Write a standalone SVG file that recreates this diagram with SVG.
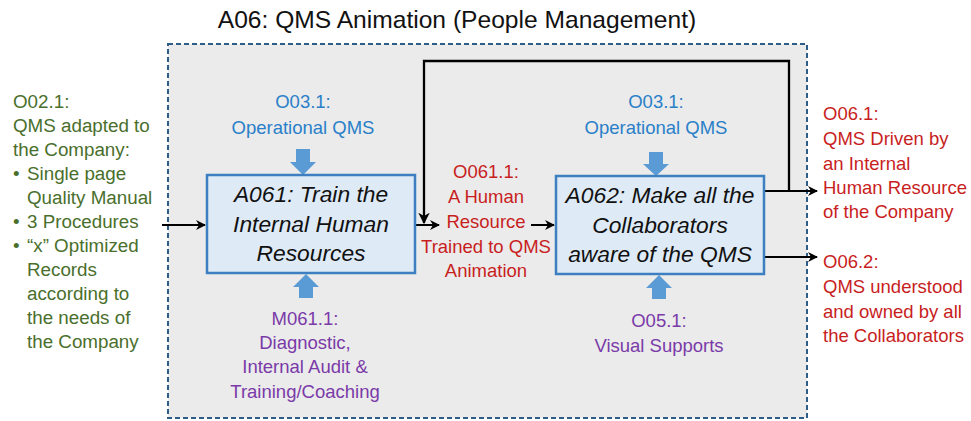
<svg xmlns="http://www.w3.org/2000/svg" width="971" height="421" viewBox="0 0 971 421">
<style>
.t{font-family:"Liberation Sans",Arial,sans-serif;font-size:18.5px}
.c{text-anchor:middle}
.blue{fill:#2a7fc9}
.red{fill:#c81e1e}
.purple{fill:#7a3aa8}
.green{fill:#4a6f2c;font-size:18.8px}
.box{fill:#deeaf6;stroke:#3d7fc1;stroke-width:2.5}
.bt{font-family:"Liberation Sans",Arial,sans-serif;font-size:22.8px;font-style:italic;fill:#111;text-anchor:middle}
.blk{fill:#5b9bd5}
.ln{fill:none;stroke:#000;stroke-width:2}
</style>
<defs>
<marker id="ah" viewBox="0 0 10 10" refX="9" refY="5" markerWidth="5" markerHeight="5" orient="auto" markerUnits="strokeWidth">
<path d="M0,0 L10,5 L0,10 L3,5 Z" fill="#000"/>
</marker>
</defs>
<rect width="971" height="421" fill="#fff"/>
<g id="frame">
<rect x="168" y="44" width="639" height="374" fill="#ebebeb" stroke="#2f5d8a" stroke-width="2" stroke-dasharray="5 3"/>
<text x="457" y="28" class="t" style="font-size:24.6px;fill:#111" text-anchor="middle">A06: QMS Animation (People Management)</text>
</g>
<g id="connectors">
<line class="ln" x1="162" y1="225" x2="205" y2="225" marker-end="url(#ah)"/>
<line class="ln" x1="415" y1="225" x2="439" y2="225" marker-end="url(#ah)"/>
<line class="ln" x1="531" y1="225" x2="554" y2="225" marker-end="url(#ah)"/>
<polyline class="ln" points="789,191 789,61 424,61 424,223" marker-end="url(#ah)" style="stroke-width:2.3"/>
<line class="ln" x1="764" y1="191" x2="817" y2="191" marker-end="url(#ah)"/>
<line class="ln" x1="764" y1="257" x2="817" y2="257" marker-end="url(#ah)"/>
<polygon class="blk" points="296,149 310,149 310,162 316,162 303,175 290,162 296,162"/>
<polygon class="blk" points="299,298 313,298 313,287 319,287 306,274 293,287 299,287"/>
<polygon class="blk" points="649,152 663,152 663,164 669,164 656,176 643,164 649,164"/>
<polygon class="blk" points="652,299 666,299 666,288 672,288 659,275 646,288 652,288"/>
</g>
<g id="input">
<text class="t green" x="13" y="108">O02.1:</text>
<text class="t green" x="13" y="132">QMS adapted to</text>
<text class="t green" x="13" y="156">the Company:</text>
<text class="t green" x="13" y="180">•</text><text class="t green" x="27" y="180">Single page</text>
<text class="t green" x="27" y="204">Quality Manual</text>
<text class="t green" x="13" y="228">•</text><text class="t green" x="27" y="228">3 Procedures</text>
<text class="t green" x="13" y="252">•</text><text class="t green" x="27" y="252">“x” Optimized</text>
<text class="t green" x="27" y="276">Records</text>
<text class="t green" x="27" y="300">according to</text>
<text class="t green" x="27" y="324">the needs of</text>
<text class="t green" x="27" y="348">the Company</text>
</g>
<g id="A061">
<rect class="box" x="207" y="175" width="208" height="98"/>
<text class="bt" x="311" y="202">A061: Train the</text>
<text class="bt" x="311" y="232">Internal Human</text>
<text class="bt" x="311" y="261">Resources</text>
</g>
<g id="ctrl1">
<text class="t c blue" x="303" y="108">O03.1:</text>
<text class="t c blue" x="303" y="134">Operational QMS</text>
</g>
<g id="mech1">
<text class="t c purple" x="305" y="325">M061.1:</text>
<text class="t c purple" x="305" y="349">Diagnostic,</text>
<text class="t c purple" x="305" y="373">Internal Audit &amp;</text>
<text class="t c purple" x="305" y="398">Training/Coaching</text>
</g>
<g id="O061">
<text class="t c red" x="486" y="178">O061.1:</text>
<text class="t c red" x="486" y="203">A Human</text>
<text class="t c red" x="486" y="228">Resource</text>
<text class="t c red" x="486" y="253">Trained to QMS</text>
<text class="t c red" x="486" y="277">Animation</text>
</g>
<g id="A062">
<rect class="box" x="556" y="176" width="208" height="98"/>
<text class="bt" x="660" y="203">A062: Make all the</text>
<text class="bt" x="660" y="233">Collaborators</text>
<text class="bt" x="660" y="262">aware of the QMS</text>
</g>
<g id="ctrl2">
<text class="t c blue" x="656" y="108">O03.1:</text>
<text class="t c blue" x="656" y="134">Operational QMS</text>
</g>
<g id="mech2">
<text class="t c purple" x="659" y="327">O05.1:</text>
<text class="t c purple" x="659" y="352">Visual Supports</text>
</g>
<g id="O061out">
<text class="t red" x="823" y="120">O06.1:</text>
<text class="t red" x="823" y="145">QMS Driven by</text>
<text class="t red" x="823" y="170">an Internal</text>
<text class="t red" x="823" y="194">Human Resource</text>
<text class="t red" x="823" y="218">of the Company</text>
</g>
<g id="O062out">
<text class="t red" x="823" y="268">O06.2:</text>
<text class="t red" x="823" y="293">QMS understood</text>
<text class="t red" x="823" y="318">and owned by all</text>
<text class="t red" x="823" y="342">the Collaborators</text>
</g>
</svg>
